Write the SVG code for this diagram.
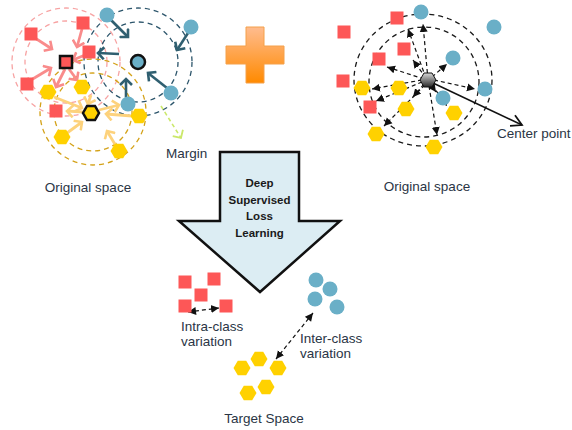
<svg xmlns="http://www.w3.org/2000/svg" xmlns:xlink="http://www.w3.org/1999/xlink" width="572" height="430" viewBox="0 0 572 430">
  <style>
    .lbl { font-family: "Liberation Sans", Arial, sans-serif; font-size: 13.5px; fill: #2a3545; }
    .bold { font-family: "Liberation Sans", Arial, sans-serif; font-size: 11.5px; font-weight: bold; fill: #1a1a1a; }
    .red { fill: #fd5757; }
    .blue { fill: #6aafc7; }
    .yel { fill: #ffd100; }
    .ringR { fill: none; stroke: #f7a3a3; stroke-width: 1.3; stroke-dasharray: 5 4; }
    .ringB { fill: none; stroke: #2d566c; stroke-width: 1.3; stroke-dasharray: 5 4; }
    .ringY { fill: none; stroke: #d4a219; stroke-width: 1.3; stroke-dasharray: 5 4; }
    .ringK { fill: none; stroke: #1a1a1a; stroke-width: 1.3; stroke-dasharray: 5 4; }
    .aR { stroke: #f98b8b; stroke-width: 2.8; fill: none; marker-end: url(#hR); }
    .aB { stroke: #2f5f70; stroke-width: 2.6; fill: none; marker-end: url(#hB); }
    .aY { stroke: #fdd27c; stroke-width: 2.8; fill: none; marker-end: url(#hY); }
    .aK { stroke: #111; stroke-width: 1.2; fill: none; stroke-dasharray: 4 3; marker-end: url(#hK); }
    .aK2 { stroke: #111; stroke-width: 1.2; fill: none; stroke-dasharray: 4 3; marker-start: url(#hKs); marker-end: url(#hK); }
  </style>
  <defs>
    <path id="hex" d="M-8.5,0 L-4.2,-7.3 L4.2,-7.3 L8.5,0 L4.2,7.3 L-4.2,7.3Z"/>
    <rect id="sq" x="-6.5" y="-6.5" width="13" height="13"/>
    <circle id="dot" r="7.5"/>
    <marker id="hR" markerUnits="userSpaceOnUse" markerWidth="14" markerHeight="14" refX="7" refY="7" orient="auto" viewBox="0 0 14 14">
      <path d="M1,1 L7,7 L1,13" fill="none" stroke="#f98b8b" stroke-width="2.6"/>
    </marker>
    <marker id="hB" markerUnits="userSpaceOnUse" markerWidth="14" markerHeight="14" refX="7" refY="7" orient="auto" viewBox="0 0 14 14">
      <path d="M1,1 L7,7 L1,13" fill="none" stroke="#2f5f70" stroke-width="2.6"/>
    </marker>
    <marker id="hY" markerUnits="userSpaceOnUse" markerWidth="14" markerHeight="14" refX="7" refY="7" orient="auto" viewBox="0 0 14 14">
      <path d="M1,1 L7,7 L1,13" fill="none" stroke="#fdd27c" stroke-width="2.6"/>
    </marker>
    <marker id="hG" markerUnits="userSpaceOnUse" markerWidth="14" markerHeight="14" refX="7" refY="7" orient="auto" viewBox="0 0 14 14">
      <path d="M1,1 L7,7 L1,13" fill="none" stroke="#cbe86b" stroke-width="1.8"/>
    </marker>
    <marker id="hK" markerUnits="userSpaceOnUse" markerWidth="10" markerHeight="10" refX="8" refY="4" orient="auto" viewBox="0 0 10 8">
      <path d="M0,0 L8,4 L0,8 Z" fill="#111"/>
    </marker>
    <marker id="hKs" markerUnits="userSpaceOnUse" markerWidth="10" markerHeight="10" refX="0" refY="4" orient="auto" viewBox="0 0 10 8">
      <path d="M8,0 L0,4 L8,8 Z" fill="#111"/>
    </marker>
    <marker id="hO" markerUnits="userSpaceOnUse" markerWidth="14" markerHeight="14" refX="10" refY="6" orient="auto" viewBox="0 0 12 12">
      <path d="M1,1 L10,6 L1,11" fill="none" stroke="#111" stroke-width="1.5"/>
    </marker>
    <linearGradient id="gPlus" x1="0" y1="0" x2="0" y2="1">
      <stop offset="0" stop-color="#ffbc8f"/>
      <stop offset="1" stop-color="#ff8a00"/>
    </linearGradient>
    <linearGradient id="gCenter" x1="0" y1="0" x2="0" y2="1">
      <stop offset="0" stop-color="#d8d8d8"/>
      <stop offset="1" stop-color="#2a2a2a"/>
    </linearGradient>
  </defs>

  <!-- left original space: margin rings -->
  <g id="rings-left">
    <circle class="ringR" cx="66" cy="62" r="54"/>
    <circle class="ringR" cx="66" cy="62" r="41"/>
    <circle class="ringB" cx="138" cy="62" r="54"/>
    <circle class="ringB" cx="138" cy="62" r="40"/>
    <circle class="ringY" cx="93" cy="112" r="53"/>
    <circle class="ringY" cx="93" cy="112" r="39"/>
  </g>

  <!-- right original space: rings around the center point -->
  <g id="rings-right">
    <ellipse class="ringK" cx="423" cy="80" rx="69" ry="66"/>
    <ellipse class="ringK" cx="424" cy="82" rx="55" ry="55"/>
  </g>

  <g id="connectors">
    <!-- pull / push toward the red anchor -->
    <line class="aR" x1="35" y1="38" x2="52" y2="49"/>
    <line class="aR" x1="82" y1="29" x2="77" y2="47"/>
    <line class="aR" x1="85" y1="55" x2="73" y2="60"/>
    <line class="aR" x1="31" y1="80" x2="51" y2="68"/>
    <line class="aR" x1="65" y1="69" x2="56" y2="87"/>
    <line class="aR" x1="69" y1="69" x2="77" y2="80"/>
    <!-- blue anchor -->
    <line class="aB" x1="111" y1="20" x2="128" y2="37"/>
    <line class="aB" x1="188" y1="33" x2="177" y2="50"/>
    <line class="aB" x1="167" y1="88" x2="148" y2="73"/>
    <line class="aB" x1="119" y1="54" x2="98" y2="53"/>
    <line class="aB" x1="126" y1="97" x2="126" y2="79"/>
    <!-- yellow anchor -->
    <line class="aY" x1="54" y1="97" x2="82" y2="108"/>
    <line class="aY" x1="91" y1="95" x2="88" y2="104"/>
    <line class="aY" x1="83" y1="112" x2="67" y2="111"/>
    <line class="aY" x1="99" y1="110" x2="119" y2="105"/>
    <line class="aY" x1="132" y1="116" x2="106" y2="114"/>
    <line class="aY" x1="67" y1="133" x2="82" y2="122"/>
    <line class="aY" x1="116" y1="146" x2="107" y2="131"/>
    <!-- margin pointer -->
    <line x1="161" y1="106" x2="181" y2="138" stroke="#cbe86b" stroke-width="1.6" stroke-dasharray="4 3" marker-end="url(#hG)"/>

    <!-- dashed rays from the center point -->
    <line class="aK" x1="428" y1="80" x2="423" y2="24"/>
    <line class="aK" x1="426" y1="78" x2="408" y2="29"/>
    <line class="aK" x1="426" y1="78" x2="413" y2="60"/>
    <line class="aK" x1="424" y1="79" x2="387" y2="67"/>
    <line class="aK" x1="432" y1="77" x2="447" y2="64"/>
    <line class="aK" x1="434" y1="80" x2="475" y2="89"/>
    <line class="aK" x1="422" y1="80" x2="372" y2="89"/>
    <line class="aK" x1="422" y1="82" x2="376" y2="101"/>
    <line class="aK" x1="424" y1="84" x2="413" y2="97"/>
    <line class="aK" x1="425" y1="85" x2="384" y2="126"/>
    <line class="aK" x1="429" y1="86" x2="437" y2="135"/>
    <line class="aK" x1="432" y1="85" x2="447" y2="106"/>
    <line class="aK" x1="431" y1="85" x2="436" y2="92"/>
    <line x1="433" y1="83" x2="522" y2="125" stroke="#111" stroke-width="1.5" marker-end="url(#hO)"/>

    <!-- target space variations -->
    <line class="aK2" x1="188" y1="312" x2="219" y2="308"/>
    <line class="aK2" x1="313" y1="313" x2="276" y2="359"/>
  </g>

  <!-- left original space samples -->
  <g id="left-red">
    <use href="#sq" class="red" x="31" y="34"/>
    <use href="#sq" class="red" x="83" y="23"/>
    <use href="#sq" class="red" x="89" y="52"/>
    <use href="#sq" class="red" x="27" y="84"/>
    <use href="#sq" class="red" x="56" y="111"/>
    <rect x="60" y="56" width="12" height="12" class="red" stroke="#111" stroke-width="2.5"/>
  </g>
  <g id="left-blue">
    <use href="#dot" class="blue" x="107" y="15"/>
    <use href="#dot" class="blue" x="191" y="27"/>
    <use href="#dot" class="blue" x="171" y="93"/>
    <use href="#dot" class="blue" x="128" y="104"/>
    <circle cx="138" cy="62" r="7" class="blue" stroke="#111" stroke-width="2.5"/>
  </g>
  <g id="left-yellow">
    <use href="#hex" class="yel" x="48" y="92"/>
    <use href="#hex" class="yel" x="82" y="87"/>
    <use href="#hex" class="yel" x="139" y="116"/>
    <use href="#hex" class="yel" x="62" y="137"/>
    <use href="#hex" class="yel" x="119" y="151"/>
    <path d="M83,113 L87,106 L95,106 L99,113 L95,120 L87,120Z" class="yel" stroke="#111" stroke-width="2.5"/>
  </g>
  <g id="margin-label">
    <text class="lbl" x="166" y="158">Margin</text>
  </g>
  <g id="left-caption">
    <text class="lbl" x="88" y="192" text-anchor="middle">Original space</text>
  </g>

  <!-- plus sign -->
  <g id="plus">
    <path d="M246,27 H264 V46 H284 V64 H264 V83 H246 V64 H226 V46 H246 Z" fill="url(#gPlus)" stroke="#f4a04a" stroke-width="1"/>
  </g>

  <!-- right original space samples -->
  <g id="right-red">
    <use href="#sq" class="red" x="397" y="18"/>
    <use href="#sq" class="red" x="344" y="32"/>
    <use href="#sq" class="red" x="404" y="49"/>
    <use href="#sq" class="red" x="379" y="59"/>
    <use href="#sq" class="red" x="343" y="81"/>
    <use href="#sq" class="red" x="370" y="107"/>
  </g>
  <g id="right-blue">
    <use href="#dot" class="blue" x="421" y="12"/>
    <use href="#dot" class="blue" x="494" y="27"/>
    <use href="#dot" class="blue" x="453" y="58"/>
    <use href="#dot" class="blue" x="485" y="89"/>
    <use href="#dot" class="blue" x="443" y="98"/>
  </g>
  <g id="right-yellow">
    <use href="#hex" class="yel" x="362" y="88"/>
    <use href="#hex" class="yel" x="399" y="88"/>
    <use href="#hex" class="yel" x="406" y="109"/>
    <use href="#hex" class="yel" x="454" y="113"/>
    <use href="#hex" class="yel" x="376" y="134"/>
    <use href="#hex" class="yel" x="434" y="147"/>
  </g>
  <g id="center-point">
    <path d="M420,80 L424,73 L432,73 L436,80 L432,87 L424,87Z" fill="url(#gCenter)" stroke="#111" stroke-width="1"/>
    <text class="lbl" x="497" y="138">Center point</text>
  </g>
  <g id="right-caption">
    <text class="lbl" x="427" y="191" text-anchor="middle">Original space</text>
  </g>

  <!-- learning arrow -->
  <g id="loss-arrow">
    <path d="M220,152 L299,152 L299,221 L340,221 L260,292 L179,221 L220,221 Z" fill="#dcedf3" stroke="#111" stroke-width="2.5" stroke-linejoin="miter"/>
    <text class="bold" x="259.5" y="187" text-anchor="middle">Deep</text>
    <text class="bold" x="259.5" y="204" text-anchor="middle">Supervised</text>
    <text class="bold" x="259.5" y="220" text-anchor="middle">Loss</text>
    <text class="bold" x="259.5" y="237" text-anchor="middle">Learning</text>
  </g>

  <!-- target space clusters -->
  <g id="target-red">
    <use href="#sq" class="red" x="185" y="282"/>
    <use href="#sq" class="red" x="214" y="279"/>
    <use href="#sq" class="red" x="201" y="295"/>
    <use href="#sq" class="red" x="185" y="306"/>
    <use href="#sq" class="red" x="226" y="306"/>
  </g>
  <g id="target-blue">
    <use href="#dot" class="blue" x="316" y="280"/>
    <use href="#dot" class="blue" x="330" y="289"/>
    <use href="#dot" class="blue" x="315" y="299"/>
    <use href="#dot" class="blue" x="337" y="307"/>
  </g>
  <g id="target-yellow">
    <use href="#hex" class="yel" x="242" y="368"/>
    <use href="#hex" class="yel" x="259" y="359"/>
    <use href="#hex" class="yel" x="278" y="368"/>
    <use href="#hex" class="yel" x="248" y="393"/>
    <use href="#hex" class="yel" x="266" y="387"/>
  </g>
  <g id="target-labels">
    <text class="lbl" x="181" y="331">Intra-class</text>
    <text class="lbl" x="181" y="346">variation</text>
    <text class="lbl" x="300" y="343">Inter-class</text>
    <text class="lbl" x="300" y="358">variation</text>
    <text class="lbl" x="264" y="423" text-anchor="middle">Target Space</text>
  </g>
</svg>
